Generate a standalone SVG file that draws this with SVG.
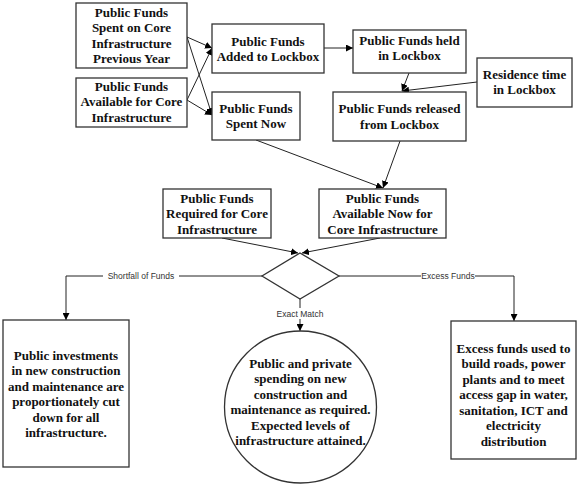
<svg xmlns="http://www.w3.org/2000/svg" width="580" height="491" viewBox="0 0 580 491">
<defs>
<marker id="ah" viewBox="0 0 10 10" refX="10" refY="5" markerWidth="7" markerHeight="7" markerUnits="userSpaceOnUse" orient="auto">
<path d="M0,0 L10,5 L0,10 z" fill="#000"/>
</marker>
<style>
.box{fill:#fff;stroke:#333;stroke-width:1.3}
.t{font-family:'Liberation Serif','Times New Roman',Times,serif;font-weight:bold;font-size:13px;fill:#111;text-anchor:middle}
.c{fill:none;stroke:#222;stroke-width:1}
.a{marker-end:url(#ah)}
.lbl{font-family:'Liberation Sans',Arial,sans-serif;font-size:8.5px;fill:#333;text-anchor:middle}
.lb{fill:#fff}
</style>
</defs>
<rect width="580" height="491" fill="#fff"/>
<g id="connectors">
<line class="c a" x1="187" y1="37" x2="212" y2="48"/>
<line class="c a" x1="187" y1="37" x2="212" y2="115"/>
<line class="c a" x1="187" y1="100" x2="212" y2="48"/>
<line class="c a" x1="187" y1="100" x2="212" y2="115"/>
<line class="c a" x1="324" y1="48" x2="353" y2="48"/>
<line class="c a" x1="409" y1="73" x2="402" y2="91"/>
<line class="c a" x1="477" y1="82" x2="402" y2="91"/>
<line class="c a" x1="256" y1="140" x2="383" y2="188"/>
<line class="c a" x1="400" y1="141" x2="383" y2="188"/>
<line class="c a" x1="222" y1="238" x2="298" y2="253"/>
<line class="c a" x1="380" y1="238" x2="302" y2="253"/>
<polyline class="c a" points="262,276 66,276 66,320"/>
<polyline class="c a" points="339,276 514,276 514,321"/>
<line class="c a" x1="300" y1="299" x2="300" y2="331"/>
<rect class="lb" x="103" y="270" width="76" height="11"/>
<text class="lbl" x="141" y="279">Shortfall of Funds</text>
<rect class="lb" x="421" y="270" width="54" height="11"/>
<text class="lbl" x="448" y="279">Excess Funds</text>
<rect class="lb" x="276" y="308" width="48" height="11"/>
<text class="lbl" x="300" y="317">Exact Match</text>
</g>
<g id="spent-prev">
<rect class="box" x="76" y="3" width="111" height="65"/>
<text class="t" font-family="Liberation Serif, serif"><tspan x="131.5" y="16.5">Public Funds</tspan><tspan x="131.5" y="32">Spent on Core</tspan><tspan x="131.5" y="47.5">Infrastructure</tspan><tspan x="131.5" y="63">Previous Year</tspan></text>
</g>
<g id="available-core">
<rect class="box" x="76" y="78" width="111" height="49"/>
<text class="t"><tspan x="131.5" y="90.5">Public Funds</tspan><tspan x="131.5" y="106">Available for Core</tspan><tspan x="131.5" y="121.5">Infrastructure</tspan></text>
</g>
<g id="added-lockbox">
<rect class="box" x="212" y="24" width="112" height="49"/>
<text class="t"><tspan x="268" y="45.5">Public Funds</tspan><tspan x="268" y="61">Added to Lockbox</tspan></text>
</g>
<g id="spent-now">
<rect class="box" x="212" y="92" width="88" height="48"/>
<text class="t"><tspan x="256" y="112.5">Public Funds</tspan><tspan x="256" y="128">Spent Now</tspan></text>
</g>
<g id="held-lockbox">
<rect class="box" x="353" y="30" width="113" height="43"/>
<text class="t"><tspan x="409.5" y="44.5">Public Funds held</tspan><tspan x="409.5" y="60">in Lockbox</tspan></text>
</g>
<g id="residence-time">
<rect class="box" x="477" y="58" width="95" height="49"/>
<text class="t"><tspan x="524.5" y="78.5">Residence time</tspan><tspan x="524.5" y="94">in  Lockbox</tspan></text>
</g>
<g id="released-lockbox">
<rect class="box" x="333" y="92" width="133" height="49"/>
<text class="t"><tspan x="399.5" y="113">Public Funds released</tspan><tspan x="399.5" y="128.5">from Lockbox</tspan></text>
</g>
<g id="required-core">
<rect class="box" x="163" y="189" width="108" height="49"/>
<text class="t"><tspan x="217" y="202.5">Public Funds</tspan><tspan x="217" y="218">Required for Core</tspan><tspan x="217" y="233.5">Infrastructure</tspan></text>
</g>
<g id="available-now">
<rect class="box" x="319" y="189" width="127" height="49"/>
<text class="t"><tspan x="382.5" y="202.5">Public Funds</tspan><tspan x="382.5" y="218">Available Now for</tspan><tspan x="382.5" y="233.5">Core Infrastructure</tspan></text>
</g>
<g id="decision">
<polygon class="box" points="300,253 339,276 300,299 262,276"/>
</g>
<g id="shortfall">
<rect class="box" x="3" y="320" width="126" height="147"/>
<text class="t"><tspan x="66" y="359.5">Public investments</tspan><tspan x="66" y="375">in new construction</tspan><tspan x="66" y="390.5">and maintenance are</tspan><tspan x="66" y="406">proportionately cut</tspan><tspan x="66" y="421.5">down for all</tspan><tspan x="66" y="437">infrastructure.</tspan></text>
</g>
<g id="exact">
<circle class="box" cx="300.5" cy="407" r="76"/>
<text class="t"><tspan x="300.5" y="367.5">Public and private</tspan><tspan x="300.5" y="383">spending on new</tspan><tspan x="300.5" y="398.5">construction and</tspan><tspan x="300.5" y="414">maintenance as required.</tspan><tspan x="300.5" y="429.5">Expected levels of</tspan><tspan x="300.5" y="445">infrastructure attained.</tspan></text>
</g>
<g id="excess">
<rect class="box" x="451" y="321" width="125" height="138"/>
<text class="t"><tspan x="513.5" y="352.5">Excess funds used to</tspan><tspan x="513.5" y="368">build roads, power</tspan><tspan x="513.5" y="383.5">plants and to meet</tspan><tspan x="513.5" y="399">access gap in water,</tspan><tspan x="513.5" y="414.5">sanitation, ICT and</tspan><tspan x="513.5" y="430">electricity</tspan><tspan x="513.5" y="445.5">distribution</tspan></text>
</g>
</svg>
